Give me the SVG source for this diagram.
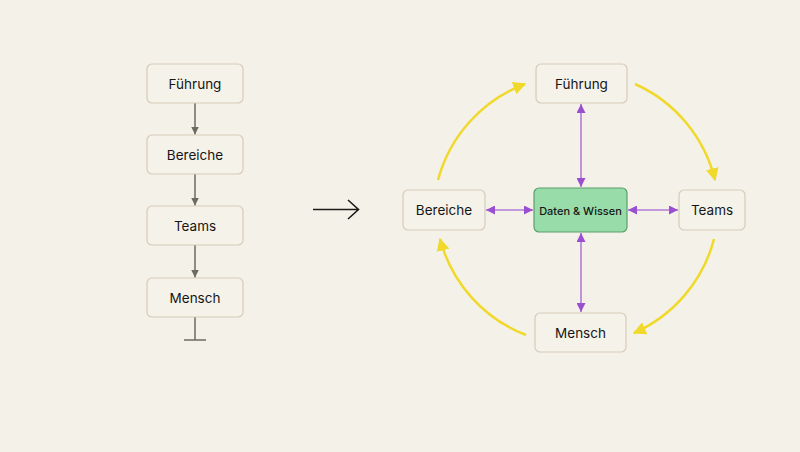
<svg xmlns="http://www.w3.org/2000/svg" width="800" height="452" viewBox="0 0 800 452">
<defs>
<style>
.box{fill:#f5f2e9;stroke:#d6ccb9;stroke-width:1.2}
.ctr{fill:#98dca9;stroke:#5a9f6c;stroke-width:1.2}
.lbl{font-family:"Inter","Liberation Sans",sans-serif;font-size:13.5px;fill:#161616;text-anchor:middle;dominant-baseline:central}
.lbls{font-family:"Inter","Liberation Sans",sans-serif;font-size:11px;font-weight:500;fill:#161616;text-anchor:middle;dominant-baseline:central}
.gray{stroke:#6e6b5e;stroke-width:1.5;fill:none}
.purp{stroke:#b57ad8;stroke-width:1.6;fill:none}
.yel{stroke:#f0d92a;stroke-width:2.5;fill:none}
</style>
<marker id="ag" viewBox="0 0 10 10" refX="10" refY="5" markerWidth="8" markerHeight="8" markerUnits="userSpaceOnUse" orient="auto"><path d="M0,0L10,5L0,10z" fill="#6e6b5e"/></marker>
<marker id="ap" viewBox="0 0 10 10" refX="10" refY="5" markerWidth="9" markerHeight="9" markerUnits="userSpaceOnUse" orient="auto-start-reverse"><path d="M0,0L10,5L0,10z" fill="#9a4fd0"/></marker>
<marker id="ay" viewBox="0 0 10 10" refX="9" refY="5" markerWidth="13" markerHeight="13" markerUnits="userSpaceOnUse" orient="auto"><path d="M0,0L10,5L0,10z" fill="#f0d92a"/></marker>
</defs>
<rect width="800" height="452" fill="#f4f1e8"/>
<g id="connectors">
<line class="gray" x1="195" y1="103" x2="195" y2="134.5" marker-end="url(#ag)"/>
<line class="gray" x1="195" y1="174" x2="195" y2="205.5" marker-end="url(#ag)"/>
<line class="gray" x1="195" y1="245" x2="195" y2="277.5" marker-end="url(#ag)"/>
<line class="gray" x1="195" y1="317" x2="195" y2="340"/>
<line class="gray" x1="184" y1="340" x2="206" y2="340"/>
<path d="M313,209.5H358M348,200L358.5,209.5L348,219" fill="none" stroke="#1c1c1c" stroke-width="1.6"/>
<line class="purp" x1="581" y1="104" x2="581" y2="187" marker-start="url(#ap)" marker-end="url(#ap)"/>
<line class="purp" x1="581" y1="233" x2="581" y2="312" marker-start="url(#ap)" marker-end="url(#ap)"/>
<line class="purp" x1="486" y1="210" x2="533" y2="210" marker-start="url(#ap)" marker-end="url(#ap)"/>
<line class="purp" x1="628" y1="210" x2="678" y2="210" marker-start="url(#ap)" marker-end="url(#ap)"/>
<path class="yel" d="M438,180A142,142 0 0 1 525,84" marker-end="url(#ay)"/>
<path class="yel" d="M635,84A142,142 0 0 1 715,180" marker-end="url(#ay)"/>
<path class="yel" d="M714,239A142,142 0 0 1 634,333" marker-end="url(#ay)"/>
<path class="yel" d="M526,335A142,142 0 0 1 440,239" marker-end="url(#ay)"/>
</g>
<g id="l-fuehrung"><rect class="box" x="147" y="64" width="96" height="39" rx="5"/><text class="lbl" x="195" y="83.5">Führung</text></g>
<g id="l-bereiche"><rect class="box" x="147" y="135" width="96" height="39" rx="5"/><text class="lbl" x="195" y="154.5">Bereiche</text></g>
<g id="l-teams"><rect class="box" x="147" y="206" width="96" height="39" rx="5"/><text class="lbl" x="195" y="225.5">Teams</text></g>
<g id="l-mensch"><rect class="box" x="147" y="278" width="96" height="39" rx="5"/><text class="lbl" x="195" y="297.5">Mensch</text></g>
<g id="r-fuehrung"><rect class="box" x="536" y="64" width="91" height="39" rx="5"/><text class="lbl" x="581.5" y="83.5">Führung</text></g>
<g id="r-center"><rect class="ctr" x="534" y="188" width="93" height="44" rx="5"/><text class="lbls" x="580.5" y="210.5">Daten &amp; Wissen</text></g>
<g id="r-bereiche"><rect class="box" x="403" y="190" width="82" height="40" rx="5"/><text class="lbl" x="444" y="210">Bereiche</text></g>
<g id="r-teams"><rect class="box" x="679" y="190" width="66" height="40" rx="5"/><text class="lbl" x="712" y="210">Teams</text></g>
<g id="r-mensch"><rect class="box" x="535" y="313" width="91" height="39" rx="5"/><text class="lbl" x="580.5" y="332.5">Mensch</text></g>
</svg>
